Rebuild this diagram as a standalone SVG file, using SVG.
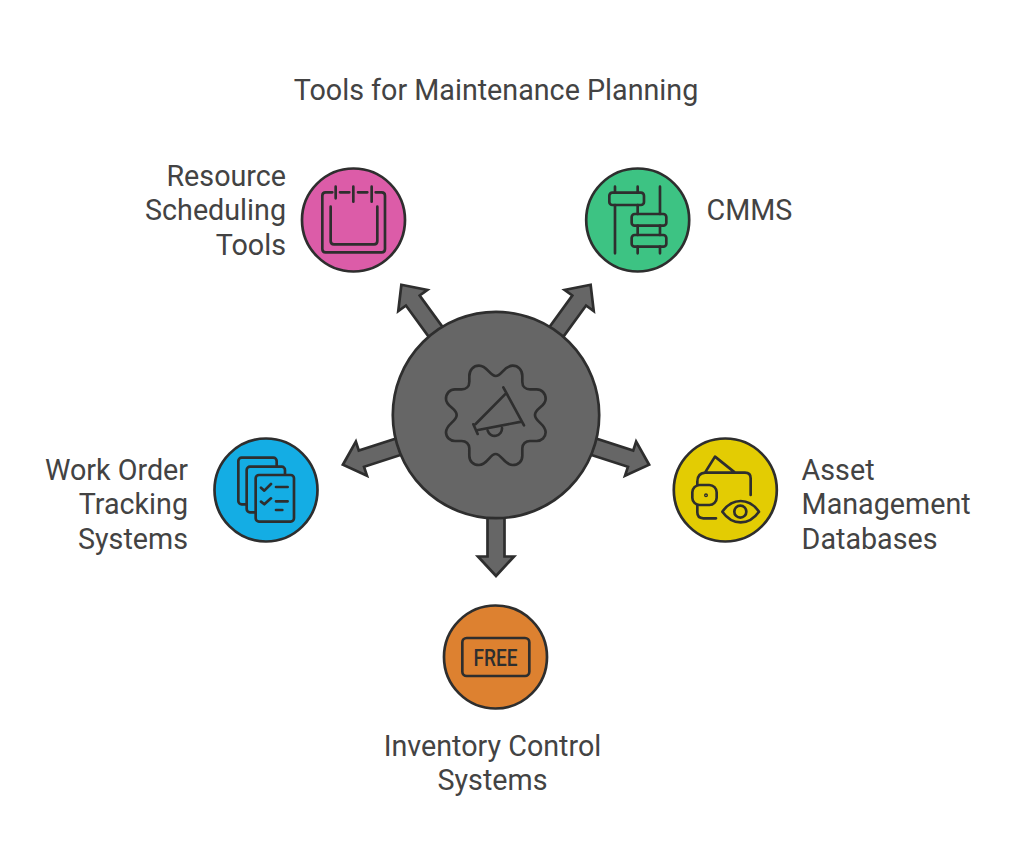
<svg xmlns="http://www.w3.org/2000/svg" width="1024" height="866" viewBox="0 0 1024 866">
<style>
.bg{fill:#fff}
.t{font-family:Roboto,"Liberation Sans",sans-serif;font-size:28.7px;fill:#434343}
.e{text-anchor:end}.m{text-anchor:middle}
.c{stroke:#2e2e2e;stroke-width:2.7}
.a{fill:#666;stroke:#2e2e2e;stroke-width:2.7;stroke-linejoin:miter}
.i{fill:none;stroke:#2e2e2e;stroke-width:8;stroke-linecap:round;stroke-linejoin:round}
.f{font-family:Roboto,"Liberation Sans",sans-serif;font-size:23px;font-weight:500;fill:#2e2e2e}
</style>
<defs>
<path id="arrow" d="M487.500 510V556.500H478L496 576L514 556.500H504.500V510Z"/>
</defs>
<rect class="bg" width="1024" height="866"/>
<text class="t m" x="496" y="99.600">Tools for Maintenance Planning</text>
<g id="connectors">
<use href="#arrow" class="a"/>
<use href="#arrow" class="a" transform="rotate(72 496 415)"/>
<use href="#arrow" class="a" transform="rotate(144 496 415)"/>
<use href="#arrow" class="a" transform="rotate(216 496 415)"/>
<use href="#arrow" class="a" transform="rotate(288 496 415)"/>
</g>
<g id="center">
<circle class="c" cx="496" cy="415" r="103.200" fill="#666"/>
<g class="i" transform="translate(380 300) scale(.3333)">
<path d="M347 228C365 228 372 197 398 197C415 197 427 210 427 228L427 245C427 260 437 268 450 268L470 268C485 268 497 280 497 297C497 320 465 325 465 345C465 365 497 372 497 397C497 412 485 423 470 423L450 423C437 423 427 432 427 445L427 467C427 484 415 495 398 495C372 495 365 462 347 462C329 462 322 495 297 495C280 495 268 484 268 467L268 445C268 432 258 423 245 423L225 423C210 423 198 412 198 397C198 372 230 365 230 345C230 325 198 320 198 297C198 280 210 268 225 268L245 268C258 268 268 260 268 245L268 228C268 210 280 197 297 197C322 197 329 228 347 228Z"/>
<path d="M370 262L432 376M378 280L287 372M294 390L425 365M280 373L293 402M323 392A22 22 0 0 0 366 384"/>
</g>
</g>
<g id="resource-scheduling">
<circle class="c" cx="353.500" cy="220" r="51.500" fill="#dc5ca8"/>
<g class="i" transform="translate(290 155) scale(.3333)">
<path d="M127 112H107Q97 112 97 122V282Q97 292 107 292H275Q285 292 285 282V122Q285 112 275 112H257M150 112H178M204 112H232M137 95V130M190 95V140M245 95V140M122 155V258Q122 268 132 268H252Q262 268 262 258V155"/>
</g>
<text class="t e"><tspan x="286" y="185.600">Resource</tspan><tspan x="286" y="220.100">Scheduling</tspan><tspan x="286" y="254.600">Tools</tspan></text>
</g>
<g id="cmms">
<circle class="c" cx="637.700" cy="220" r="51.500" fill="#3dc383"/>
<g class="i" transform="translate(575 155) scale(.3333)">
<rect x="103" y="113" width="104" height="37" rx="9"/>
<rect x="170" y="177" width="104" height="35" rx="9"/>
<rect x="170" y="240" width="104" height="35" rx="9"/>
<path d="M120 95V113M120 150V295M188 95V113M188 150V177M188 212V240M188 275V295M255 95V177M255 212V240M255 275V295"/>
</g>
<text class="t" x="706.600" y="220.100">CMMS</text>
</g>
<g id="asset-management">
<circle class="c" cx="725.300" cy="490" r="51.500" fill="#e3cc03"/>
<g class="i" transform="translate(660 425) scale(.3333)">
<path d="M135 143L165 95L225 143M135 143H255Q272 143 272 160V210M135 143Q112 145 112 170V180M112 240V262Q112 280 130 280H168"/>
<rect x="97" y="180" width="73" height="60" rx="22"/>
<circle cx="138" cy="211" r="2"/>
<path d="M187 260Q210 228 242 228Q274 228 297 260Q274 292 242 292Q210 292 187 260Z"/>
<circle cx="241" cy="260" r="18"/>
</g>
<text class="t"><tspan x="801.600" y="479.600">Asset</tspan><tspan x="801.600" y="514.100">Management</tspan><tspan x="801.600" y="548.600">Databases</tspan></text>
</g>
<g id="inventory-control">
<circle class="c" cx="495.500" cy="657" r="51.500" fill="#dd8130"/>
<g class="i" transform="translate(430 592) scale(.3333)">
<rect x="97" y="138" width="201" height="114" rx="13"/>
</g>
<text class="f" x="495.500" y="665.500" text-anchor="middle" textLength="44" lengthAdjust="spacingAndGlyphs">FREE</text>
<text class="t m"><tspan x="492.500" y="755.600">Inventory Control</tspan><tspan x="492.500" y="790">Systems</tspan></text>
</g>
<g id="work-order">
<circle class="c" cx="266" cy="490" r="51.500" fill="#14ade4"/>
<g class="i" transform="translate(200 425) scale(.3333)">
<rect x="115" y="98" width="115" height="140" rx="10"/>
<rect x="140" y="125" width="115" height="137" rx="10" fill="#14ade4"/>
<rect x="167" y="150" width="115" height="140" rx="10" fill="#14ade4"/>
<path d="M183 188L193 197L213 177M228 186H263M183 230L193 238L213 220M228 229H263M228 255H247"/>
</g>
<text class="t e"><tspan x="188" y="479.600">Work Order</tspan><tspan x="188" y="514.100">Tracking</tspan><tspan x="188" y="548.600">Systems</tspan></text>
</g>
</svg>
